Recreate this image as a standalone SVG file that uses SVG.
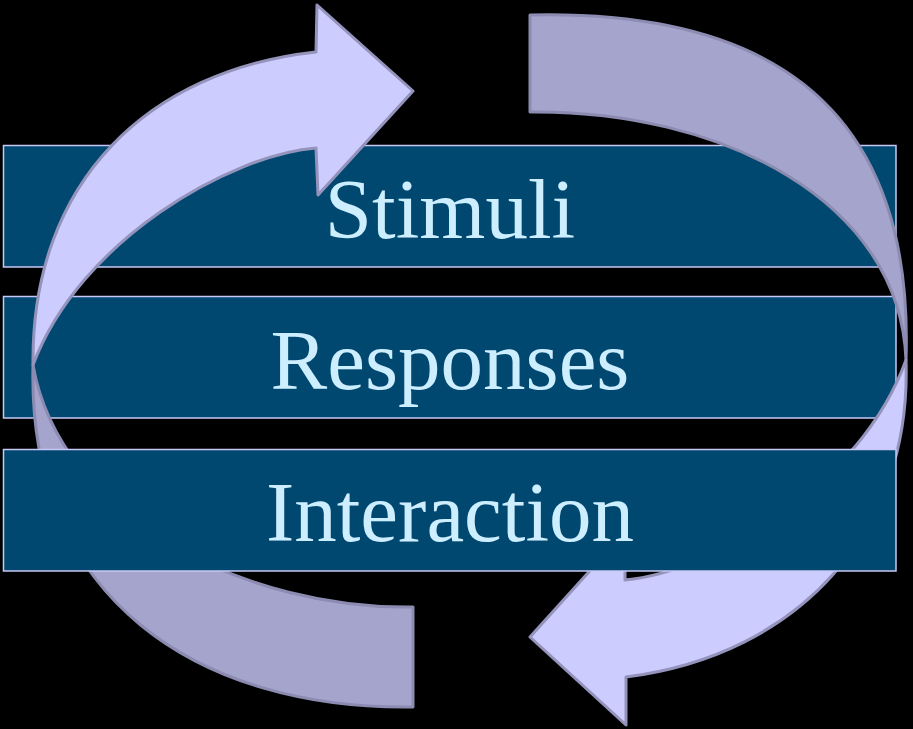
<svg xmlns="http://www.w3.org/2000/svg" width="913" height="729" viewBox="0 0 913 729">
  <style>
    .bar { fill: #00486F; stroke: #C8C8F6; stroke-width: 1.5; }
    .lbl { font-family: "Liberation Serif", "Times New Roman", serif; font-size: 85px; fill: #CCEEFF; text-anchor: middle; }
    .front { fill: #CCCCFF; stroke: #9393BC; stroke-width: 3; stroke-linejoin: round; }
    .back { fill: #A4A4CC; stroke: #8C8CB2; stroke-width: 3; stroke-linejoin: round; }
  </style>
  <rect width="913" height="729" fill="#000000"/>
  <g id="node-stimuli">
    <rect class="bar" x="3.5" y="145.5" width="892.5" height="121.5"/>
    <text class="lbl" x="450" y="238">Stimuli</text>
  </g>
  <g id="node-responses">
    <rect class="bar" x="3.5" y="296.5" width="892.5" height="121.5"/>
    <text class="lbl" x="450" y="389">Responses</text>
  </g>
  <g id="connectors">
    <path class="back" d="M 33,365 C 27,600 200,710 413,707 L 413,607 C 250,610 60,520 33,365 Z"/>
    <path class="front" d="M 33,365 C 31,180 150,70 316,52 L 317,5 L 413,91 L 318,195 L 316,148 C 230,155 80,240 33,365 Z"/>
    <path class="back" d="M 530,15 C 750,10 915,90 906,360 C 900,200 720,110 530,112 Z"/>
    <path class="front" d="M 906,360 C 912,530 800,655 626,677 L 626,725 L 530,637 L 625,532 L 625,580 C 712,572 860,487 906,360 Z"/>
  </g>
  <g id="node-interaction">
    <rect class="bar" x="3.5" y="449.5" width="892.5" height="121.5"/>
    <text class="lbl" x="450" y="541">Interaction</text>
  </g>
</svg>
